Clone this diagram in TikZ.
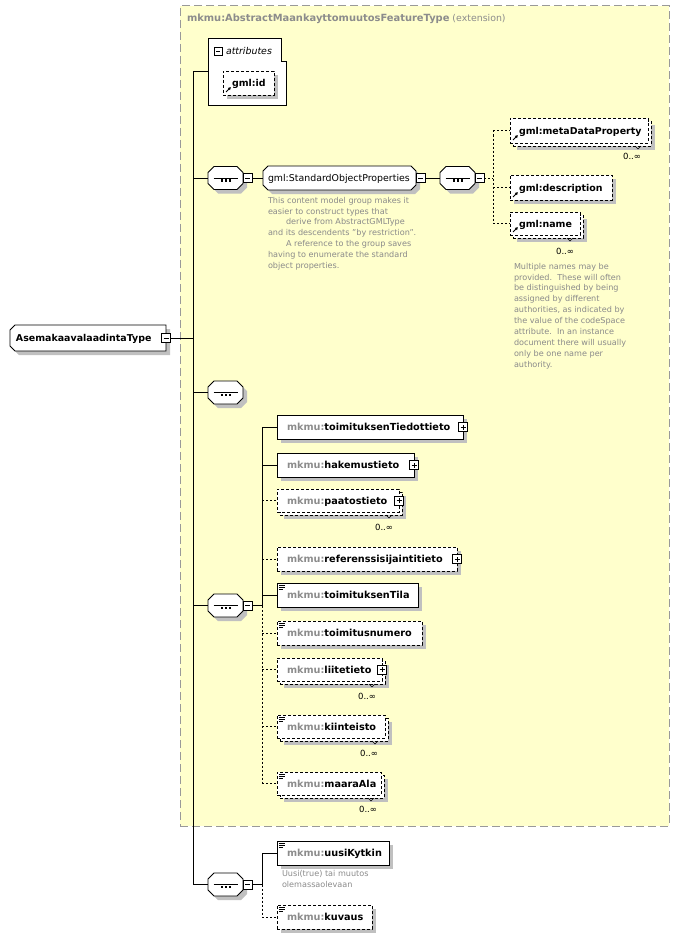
\documentclass[tikz,border=0pt]{standalone}
\usepackage{fontspec}
\setmainfont{DejaVu Sans}
\usetikzlibrary{arrows.meta}
\definecolor{ybg}{HTML}{FFFFCC}
\definecolor{ybd}{HTML}{999999}
\definecolor{shd}{HTML}{C0C0C0}
\definecolor{pfx}{HTML}{8C8C8C}
\definecolor{notec}{HTML}{8A8A8A}
\newcommand\bft{\fontsize{9.7}{11}\selectfont\bfseries}
\newcommand\bfg{\fontsize{9.45}{11}\selectfont\bfseries}
\newcommand\bfh{\fontsize{9.9}{11}\selectfont\bfseries}
\newcommand\rgt{\fontsize{9.4}{11}\selectfont}
\newcommand\ntt{\fontsize{8.1}{10.9}\selectfont}
\newcommand\occt{\fontsize{8.5}{10}\selectfont}
\newcommand\pfxm{\textcolor{pfx}{mkmu:}}
\newcommand\octp[3]{#3 ([xshift=#2]#1.north west) -- ([xshift=-#2]#1.north east) -- ([yshift=-#2]#1.north east) -- ([yshift=#2]#1.south east) -- ([xshift=-#2]#1.south east) -- ([xshift=#2]#1.south west) -- ([yshift=#2]#1.south west) -- ([yshift=-#2]#1.north west) -- cycle;}
\newcommand\rootp[3]{#3 ([xshift=#2]#1.north west) -- (#1.north east) -- (#1.south east) -- ([xshift=#2]#1.south west) -- ([yshift=#2]#1.south west) -- ([yshift=-#2]#1.north west) -- cycle;}
\newcommand\octshape[2]{\octp{#1}{#2}{\fill[shd, transform canvas={shift={(4pt,-4pt)}}]}\octp{#1}{#2}{\filldraw[fill=white, line width=0.75pt]}}
\newcommand\seqglyph[1]{\draw[line width=0.75pt] ([xshift=-12pt]#1.center) -- ([xshift=12pt]#1.center);
  \foreach \d in {-4,0,4} \fill ([shift={(\d pt-1pt,-1.2pt)}]#1.center) rectangle ++(2,2.4);}
\newcommand\simpic[1]{\draw[line width=0.6pt] ([shift={(2pt,-2pt)}]#1.north west) -- ++(6,0) ([shift={(2pt,-4pt)}]#1.north west) -- ++(6,0) ([shift={(2pt,-6pt)}]#1.north west) -- ++(4,0);}
\newcommand\refarr[1]{\draw[line width=0.9pt, -{Latex[length=3pt,width=3.4pt]}] ([shift={(3pt,3pt)}]#1.south west) -- ++(5,-5);}
\newcommand\multick[1]{\draw[line width=0.6pt] ([shift={(-16pt,0pt)}]#1.south east) -- ++(3,3) -- ++(3,-3);}
\begin{document}
\begin{tikzpicture}[x=1pt,y=-1pt,
 every node/.style={inner sep=0pt, outer sep=0pt},
 shad/.style={preaction={draw=none, fill=shd, transform canvas={shift={(4pt,-4pt)}}}},
 ebox0/.style={draw=black, fill=white, line width=0.75pt, anchor=north west},
 ebox/.style={ebox0, shad},
 obox0/.style={ebox0, dash pattern=on 3pt off 2pt},
 obox/.style={obox0, shad},
 plain/.style={draw=none, fill=none, anchor=north west},
 minusi/.style={draw=black, fill=white, line width=0.6pt, minimum width=9pt, minimum height=9pt,
   path picture={\draw[line width=0.7pt] ([xshift=2pt]path picture bounding box.west) -- ([xshift=-2pt]path picture bounding box.east);}},
 plusi/.style={draw=black, fill=white, line width=0.6pt, minimum width=9pt, minimum height=9pt,
   path picture={\draw[line width=0.7pt] ([xshift=2pt]path picture bounding box.west) -- ([xshift=-2pt]path picture bounding box.east)
     ([yshift=2pt]path picture bounding box.south) -- ([yshift=-2pt]path picture bounding box.north);}},
 lab/.style={anchor=base west},
 conn/.style={line width=0.75pt},
 oconn/.style={line width=0.75pt, dash pattern=on 2pt off 2pt},
 occ/.style={anchor=base east, font=\occt},
 note/.style={anchor=north west, align=left, text=notec, font=\ntt},
]
\useasboundingbox (0,0) rectangle (679,939);
% extension box
\node[anchor=north west, draw=ybd, fill=ybg, line width=1pt, dash pattern=on 8pt off 4pt, minimum width=489pt, minimum height=820pt] (ext) at (180,6) {};
\node[lab, text=pfx] (title) at (187,22) {\bfh mkmu:AbstractMaankayttomuutosFeatureType\mdseries\rgt\ (extension)};
% attributes
\node[plain, minimum width=78pt, minimum height=67pt] (attr) at (208,38) {};
\filldraw[fill=white, line width=0.75pt] (attr.north west) -- ([xshift=-5pt]attr.north east) -- ([xshift=-5pt,yshift=-23pt]attr.north east) -- ([yshift=-23pt]attr.north east) -- (attr.south east) -- (attr.south west) -- cycle;
\node[minusi, anchor=north west, minimum width=8pt, minimum height=8pt] (attrm) at (214,47) {};
\node[lab] (attrt) at (226,55) {\rgt\itshape attributes};
\node[obox, minimum width=51pt, minimum height=24pt] (gid) at (223,71) {};
\node[lab] (gidt) at (232,86.5) {\bfg gml:id};
\refarr{gid}
% root
\node[plain, minimum width=156pt, minimum height=26pt] (root) at (10,325) {};
\rootp{root}{5pt}{\fill[shd, transform canvas={shift={(4pt,-4pt)}}]}
\rootp{root}{5pt}{\filldraw[fill=white, line width=0.75pt]}
\node[lab] (roott) at (16,341.5) {\bfg AsemakaavalaadintaType};
\node[minusi] (rootm) at (root.east) {};
% trunk
\coordinate (tr) at (193,0);
% sequence 1 and group
\node[plain, minimum width=35pt, minimum height=23pt] (seq1) at (208,166.5) {};
\octshape{seq1}{6pt}\seqglyph{seq1}
\node[minusi, anchor=west] (m1) at (seq1.east) {};
\node[plain, minimum width=153pt, minimum height=24pt] (grp) at (263,166) {};
\octshape{grp}{5pt}
\node[lab] (grpt) at (268,181.5) {\rgt gml:StandardObjectProperties};
\node[minusi, anchor=west] (gm) at (grp.east) {};
\node[plain, minimum width=35pt, minimum height=23pt] (seq2) at (440,166.5) {};
\octshape{seq2}{6pt}\seqglyph{seq2}
\node[minusi, anchor=west] (m2) at (seq2.east) {};
\node[note] (grpn) at (268,197) {This content model group makes it\\easier to construct types that\\\hspace*{18pt}derive from AbstractGMLType\\and its descendents "by restriction".\\\hspace*{18pt}A reference to the group saves\\having to enumerate the standard\\object properties.};
% gml children
\node[obox, minimum width=138pt, minimum height=25pt] (metab) at (513,121) {};
\node[obox0, minimum width=138pt, minimum height=25pt] (meta) at (510,118) {};
\node[lab] (metat) at (519,134.5) {\bfg gml:metaDataProperty};
\refarr{meta}
\multick{metab}
\node[occ] (metao) at (641,159) {0..∞};
\node[obox, minimum width=102pt, minimum height=25pt] (desc) at (510,175) {};
\node[lab] (desct) at (519,191) {\bfg gml:description};
\refarr{desc}
\node[obox, minimum width=70pt, minimum height=23pt] (nameb) at (513,215) {};
\node[obox0, minimum width=70pt, minimum height=23pt] (name) at (510,212) {};
\node[lab] (namet) at (519,227) {\bfg gml:name};
\refarr{name}
\multick{nameb}
\node[occ] (nameo) at (574,254) {0..∞};
\node[note] (namen) at (514,263) {Multiple names may be\\provided.\ \ These will often\\be distinguished by being\\assigned by different\\authorities, as indicated by\\the value of the codeSpace\\attribute.\ \ In an instance\\document there will usually\\only be one name per\\authority.};
% sequence 3 (empty)
\node[plain, minimum width=35pt, minimum height=23pt] (seq3) at (208,381) {};
\octshape{seq3}{6pt}\seqglyph{seq3}
% sequence 4
\node[plain, minimum width=35pt, minimum height=23pt] (seq4) at (208,594) {};
\octshape{seq4}{6pt}\seqglyph{seq4}
\node[minusi, anchor=west] (m4) at (seq4.east) {};
\node[ebox, minimum width=186pt, minimum height=24pt] (tt) at (277,415) {};
\node[lab] at (287,430.5) {\bft\pfxm toimituksenTiedottieto};
\node[plusi] (ttp) at (tt.east) {};
\node[ebox, minimum width=137pt, minimum height=24pt] (hak) at (277,453) {};
\node[lab] at (287,468.5) {\bft\pfxm hakemustieto};
\node[plusi] (hakp) at (hak.east) {};
\node[obox, minimum width=122pt, minimum height=23pt] (paab) at (280,492) {};
\node[obox0, minimum width=122pt, minimum height=23pt] (paa) at (277,489) {};
\node[lab] at (287,504) {\bft\pfxm paatostieto};
\node[plusi] (paap) at (paa.east) {};
\multick{paab}
\node[occ] (paao) at (393,530) {0..∞};
\node[obox, minimum width=180pt, minimum height=24pt] (ref) at (277,547) {};
\node[lab] at (287,562.5) {\bft\pfxm referenssisijaintitieto};
\node[plusi] (refp) at (ref.east) {};
\node[ebox, minimum width=141pt, minimum height=24pt] (tila) at (277,583) {};
\node[lab] at (287,598.5) {\bft\pfxm toimituksenTila};
\simpic{tila}
\node[obox, minimum width=145pt, minimum height=24pt] (num) at (277,621) {};
\node[lab] at (287,636.5) {\bft\pfxm toimitusnumero};
\simpic{num}
\node[obox, minimum width=105pt, minimum height=23pt] (liib) at (280,661) {};
\node[obox0, minimum width=105pt, minimum height=23pt] (lii) at (277,658) {};
\node[lab] at (287,673) {\bft\pfxm liitetieto};
\node[plusi] (liip) at (lii.east) {};
\multick{liib}
\node[occ] (liio) at (376,699) {0..∞};
\node[obox, minimum width=108pt, minimum height=23pt] (kiib) at (280,718) {};
\node[obox0, minimum width=108pt, minimum height=23pt] (kii) at (277,715) {};
\node[lab] at (287,730) {\bft\pfxm kiinteisto};
\simpic{kii}
\multick{kiib}
\node[occ] (kiio) at (378,756) {0..∞};
\node[obox, minimum width=104pt, minimum height=23pt] (maab) at (280,775) {};
\node[obox0, minimum width=104pt, minimum height=23pt] (maa) at (277,772) {};
\node[lab] at (287,787) {\bft\pfxm maaraAla};
\simpic{maa}
\multick{maab}
\node[occ] (maao) at (377,812) {0..∞};
% sequence 5
\node[plain, minimum width=35pt, minimum height=23pt] (seq5) at (208,873) {};
\octshape{seq5}{6pt}\seqglyph{seq5}
\node[minusi, anchor=west] (m5) at (seq5.east) {};
\node[ebox, minimum width=112pt, minimum height=24pt] (uusi) at (277,841) {};
\node[lab] at (287,856.5) {\bft\pfxm uusiKytkin};
\simpic{uusi}
\node[note] (uusin) at (282,870) {Uusi(true) tai muutos\\olemassaolevaan};
\node[obox, minimum width=95pt, minimum height=24pt] (kuv) at (277,905) {};
\node[lab] at (287,920.5) {\bft\pfxm kuvaus};
\simpic{kuv}
% connectors
\draw[conn] (rootm.east) -- (tr |- rootm.east);
\draw[conn] (tr |- attr.west) -- (attr.west);
\draw[conn] (tr |- attr.west) -- (tr |- seq5.west);
\foreach \s in {seq1,seq3,seq4,seq5} \draw[conn] (tr |- \s.west) -- (\s.west);
\draw[conn] (m1.east) -- (grp.west |- m1.east);
\draw[conn] (gm.east) -- (seq2.west |- gm.east);
\coordinate (b2) at (493,0);
\draw[oconn] (m2.east) -- (b2 |- m2.east);
\draw[oconn] (b2 |- meta.west) -- (b2 |- name.west);
\foreach \s in {meta,desc,name} \draw[oconn] (b2 |- \s.west) -- (\s.west);
\coordinate (b4) at (262,0);
\draw[conn] (m4.east) -- (b4 |- m4.east);
\draw[conn] (b4 |- tt.west) -- (b4 |- m4.east);
\draw[oconn] (b4 |- m4.east) -- (b4 |- maa.west);
\foreach \s in {tt,hak,tila} \draw[conn] (b4 |- \s.west) -- (\s.west);
\foreach \s in {paa,ref,num,lii,kii,maa} \draw[oconn] (b4 |- \s.west) -- (\s.west);
\coordinate (b5) at (262,0);
\draw[conn] (m5.east) -- (b5 |- m5.east);
\draw[conn] (b5 |- uusi.west) -- (b5 |- m5.east);
\draw[oconn] (b5 |- m5.east) -- (b5 |- kuv.west);
\draw[conn] (b5 |- uusi.west) -- (uusi.west);
\draw[oconn] (b5 |- kuv.west) -- (kuv.west);
\end{tikzpicture}
\end{document}
